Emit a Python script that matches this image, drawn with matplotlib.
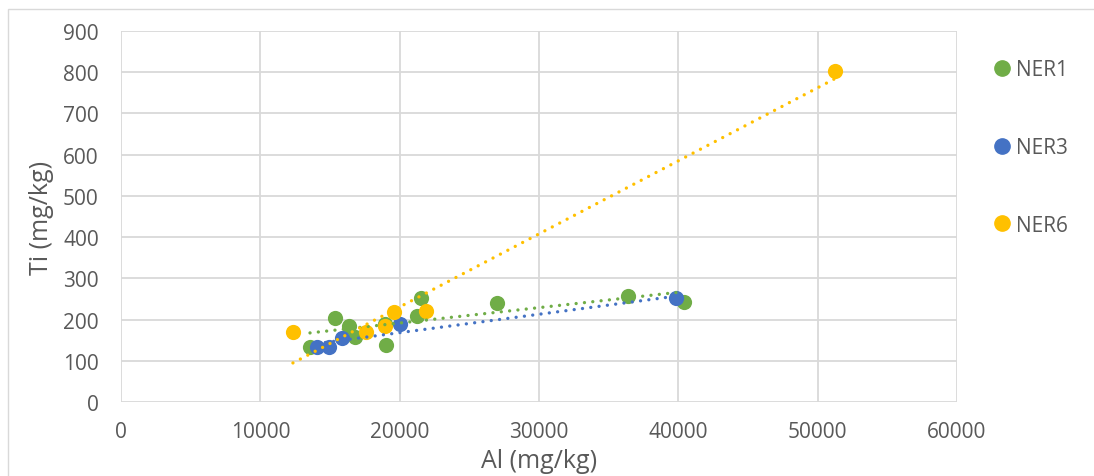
import numpy as np
import matplotlib.pyplot as plt
from matplotlib.patches import Rectangle

plt.rcParams['font.family'] = ['Open Sans', 'DejaVu Sans']

# ------------------ Data ------------------
ner1_al = [13565, 15360, 16364, 16795, 19020, 18950, 21530, 21245, 26990, 36390, 40410]
ner1_ti = [133, 204, 184, 158, 138, 189, 252, 209, 240, 257, 243]

ner3_al = [14070, 14930, 15860, 20020, 39830]
ner3_ti = [133, 133, 155, 189, 252]

ner6_al = [12340, 17580, 18950, 19590, 21890, 51240]
ner6_ti = [170, 170, 184, 218, 221, 803]

series = [
    ("NER1", ner1_al, ner1_ti, "#70AD47"),
    ("NER3", ner3_al, ner3_ti, "#4472C4"),
    ("NER6", ner6_al, ner6_ti, "#FFC000"),
]

TXT = '#595959'

fig = plt.figure(figsize=(10.94, 4.77), dpi=100)
ax = fig.add_axes([121/1094, 1 - 403/477, 836/1094, 371/477])

for name, xs, ys, col in series:
    ax.scatter(xs, ys, s=120, color=col, zorder=3, label=name, linewidths=0)

# trend lines (linear fit), round dotted like excel
for name, xs, ys, col in series:
    k, b = np.polyfit(xs, ys, 1)
    xx = np.array([min(xs), max(xs)])
    ax.plot(xx, k * xx + b, color=col, lw=2.4, linestyle=(0, (0.01, 2.5)),
            dash_capstyle='round', zorder=4)

ax.set_xlim(0, 60000)
ax.set_ylim(0, 900)
ax.set_xticks(range(0, 60001, 10000))
ax.set_yticks(range(0, 901, 100))
ax.grid(True, color='#D9D9D9', lw=1.3, zorder=0)
ax.set_axisbelow(True)
for s in ax.spines.values():
    s.set_visible(False)
ax.tick_params(axis='y', length=0, labelsize=15, colors=TXT, pad=16)
ax.tick_params(axis='x', length=0, labelsize=15, colors=TXT, pad=14)
ax.set_xlabel("Al (mg/kg)", fontsize=18, color=TXT)
ax.set_ylabel("Ti (mg/kg)", fontsize=18, color=TXT)
ax.xaxis.set_label_coords(0.5, (403 - 462) / 371, transform=ax.transAxes)
ax.xaxis.label.set_va('center')
ax.yaxis.set_label_coords((41 - 121) / 836, 0.5, transform=ax.transAxes)
ax.yaxis.label.set_va('center')

# legend
handles = [plt.Line2D([], [], marker='o', ls='', color=c, markersize=11) for _, _, _, c in series]
fig.legend(handles, [n for n, _, _, _ in series], loc='upper left',
           bbox_to_anchor=(978/1094, 1 - 50/477), frameon=False, fontsize=15,
           labelspacing=2.72, handletextpad=0.0, handlelength=1.3, labelcolor=TXT,
           borderpad=0)

# chart border
fig.patches.append(Rectangle((8/1094, -0.1), 1.2, 1 - 10/477 + 0.1, transform=fig.transFigure,
                             fill=False, edgecolor='#D9D9D9', lw=1))

fig.savefig("out.png", dpi=100)
